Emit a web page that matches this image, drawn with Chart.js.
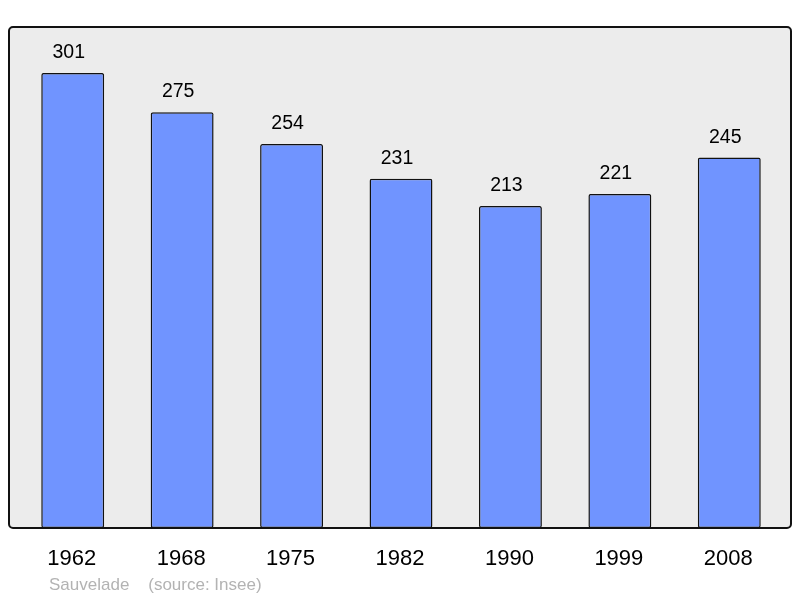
<!DOCTYPE html>
<html><head><meta charset="utf-8">
<script src="https://cdn.jsdelivr.net/npm/chart.js@4.4.0/dist/chart.umd.min.js"></script>
<style>html,body{margin:0;padding:0;background:#fff}#w{width:800px;height:598px}</style>
</head><body><div id="w"><canvas id="c" width="800" height="598"></canvas></div>
<script>
const years = ['1962','1968','1975','1982','1990','1999','2008'];
const population = [301,275,254,231,213,221,245];
const footerText = 'Sauvelade    (source: Insee)';

const FONT = '"Liberation Sans", Arial, sans-serif';
const deco = {
  id: 'deco',
  beforeDraw(chart) {
    const {ctx, chartArea: a} = chart;
    const x0 = a.left - 9, x1 = a.right + 7, y0 = a.top, y1 = a.bottom;
    ctx.save();
    ctx.beginPath();
    ctx.roundRect(x0, y0, x1 - x0, y1 - y0, 4);
    ctx.fillStyle = '#ececec';
    ctx.fill();
    ctx.lineWidth = 2;
    ctx.strokeStyle = '#111';
    ctx.stroke();
    ctx.restore();
  },
  afterDraw(chart) {
    const {ctx, chartArea: a} = chart;
    const xs = chart.scales.x, ys = chart.scales.y;
    ctx.save();
    ctx.fillStyle = '#000';
    ctx.textAlign = 'center';
    ctx.textBaseline = 'alphabetic';
    ctx.font = '19.5px ' + FONT;
    population.forEach((v, i) => {
      ctx.fillText(String(v), xs.getPixelForValue(i) - 4, ys.getPixelForValue(v) - 15);
    });
    ctx.font = '22px ' + FONT;
    years.forEach((y, i) => {
      ctx.fillText(y, xs.getPixelForValue(i) - 1, a.bottom + 37);
    });
    ctx.font = '17px ' + FONT;
    ctx.fillStyle = '#b3b3b3';
    ctx.textAlign = 'left';
    ctx.fillText(footerText, a.left + 31, a.bottom + 62);
    ctx.restore();
  }
};

new Chart(document.getElementById('c'), {
  type: 'bar',
  data: {
    labels: years,
    datasets: [{
      data: population,
      backgroundColor: '#7094ff',
      borderColor: '#111',
      borderWidth: 1.5,
      borderRadius: 2,
      borderSkipped: false,
      barPercentage: 0.575,
      categoryPercentage: 1
    }]
  },
  options: {
    responsive: false,
    animation: false,
    devicePixelRatio: 1,
    layout: {padding: {left: 18, right: 16, top: 27, bottom: 70}},
    plugins: {legend: {display: false}, tooltip: {enabled: false}},
    scales: {
      x: {display: false},
      y: {display: false, min: 0, max: 331.4}
    }
  },
  plugins: [deco]
});
</script></body></html>
